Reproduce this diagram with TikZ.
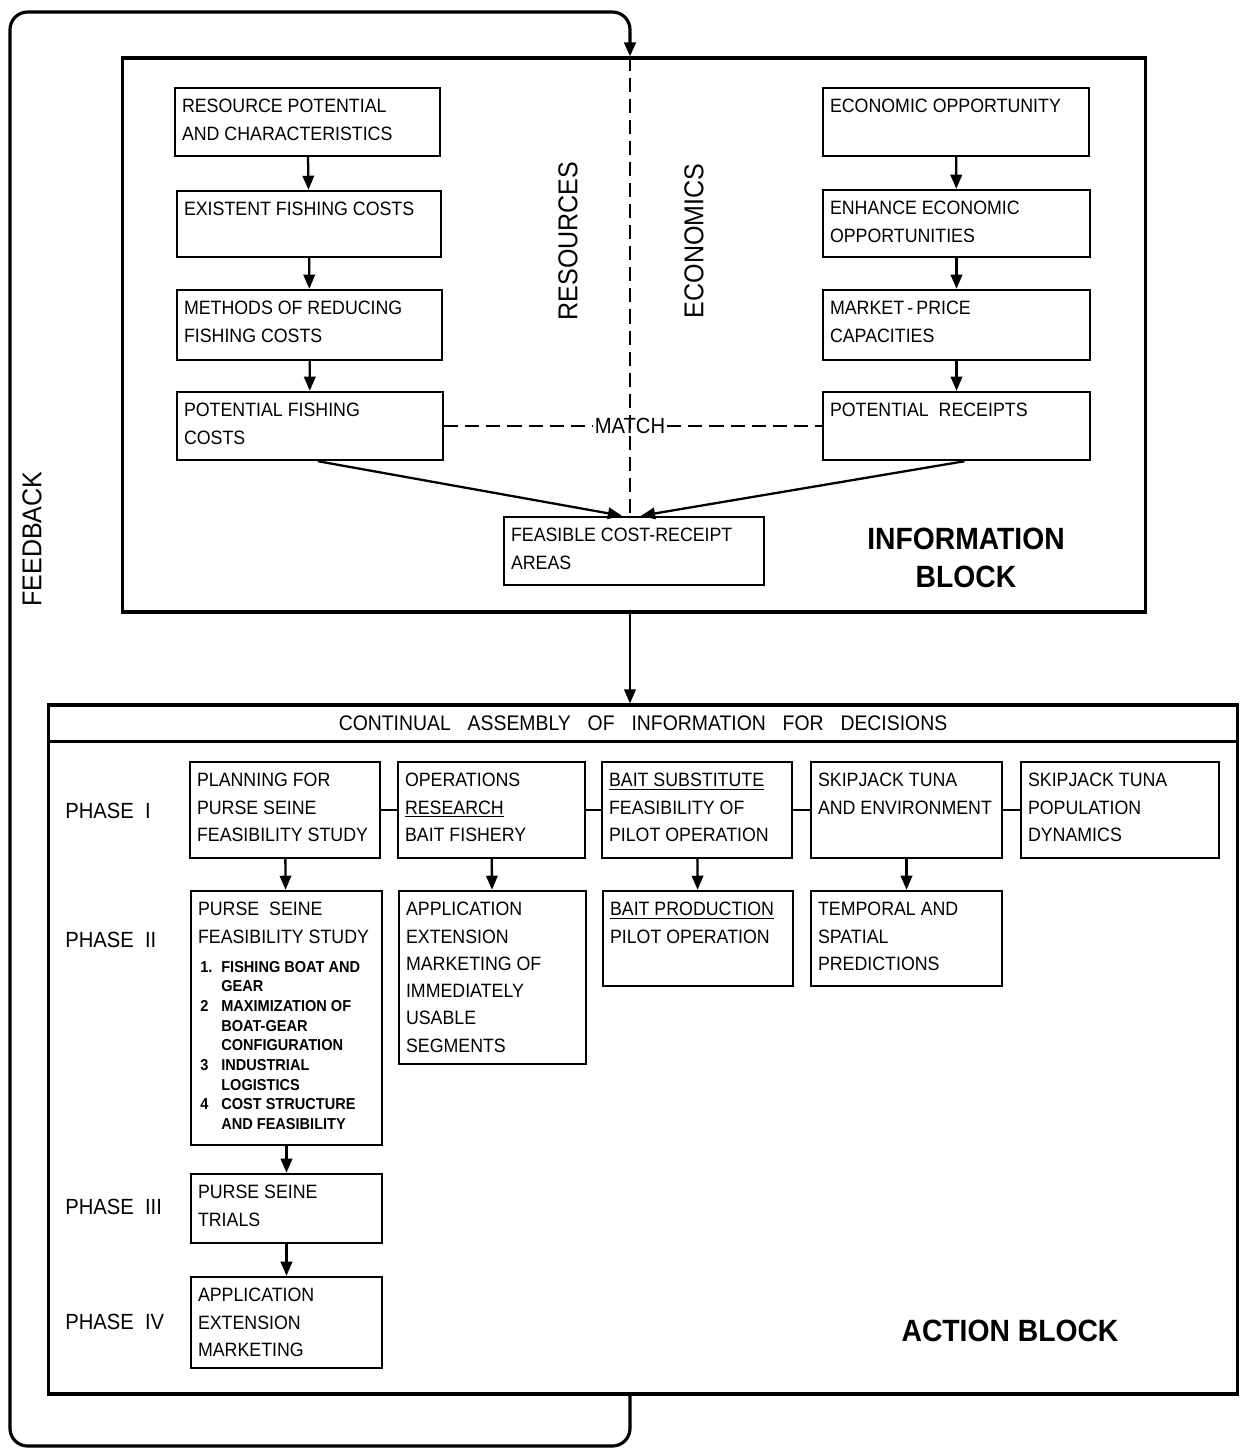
\documentclass[tikz,border=0pt]{standalone}
\usepackage{fontspec}
\setmainfont{Liberation Sans}[FakeStretch=0.92]
\usetikzlibrary{arrows.meta,positioning,calc}
\tikzset{%
  box/.style={rectangle,draw,line width=1.4pt,inner sep=0pt},
  block/.style={rectangle,draw,line width=1.8pt,inner sep=0pt},
  boxtext/.style={anchor=north west,align=left,inner xsep=4.5pt,inner ysep=7pt,
    font=\fontsize{11}{15.5}\selectfont},
  flow/.style={line width=1.3pt,-{Triangle[length=8pt,width=6.5pt]}},
  link/.style={line width=1.3pt},
  matchline/.style={line width=1.3pt,dash pattern=on 8pt off 4pt},
  phase/.style={anchor=west,inner sep=0pt,font=\fontsize{12.5}{14}\selectfont},
  bigtext/.style={align=center,font=\fontsize{17.5}{22}\selectfont\bfseries},
  sidetext/.style={rotate=90,font=\fontsize{15.5}{18}\selectfont}
}

\begin{document}
\begin{tikzpicture}[x=0.02cm,y=-0.02cm]
\useasboundingbox (0,0) rectangle (1244,1454);

% ---- box macro: #1 name, #2 x1, #3 y1, #4 x2, #5 y2, #6 text ----
\newcommand{\pbox}[6]{
  \node[box,minimum width={(#4-#2)*0.02cm},minimum height={(#5-#3)*0.02cm}]
    (#1) at ({(#2+#4)/2},{(#3+#5)/2}) {};
  \node[boxtext] at (#1.north west) {#6};
}

% ===================== outer blocks =====================
\node[block,minimum width=20.48cm,minimum height=11.08cm] (info) at (634,335) {};
\node[block,minimum width=23.80cm,minimum height=13.78cm] (act) at (643,1049.5) {};
\node[box,anchor=north,minimum width=23.80cm,minimum height=0.74cm,
  font=\fontsize{12}{14}\selectfont] (hdr) at (act.north)
  {CONTINUAL\hspace{0.8em}ASSEMBLY\hspace{0.8em}OF\hspace{0.8em}INFORMATION\hspace{0.8em}FOR\hspace{0.8em}DECISIONS};

\coordinate (fbx) at (630,12);     % feedback top turn
\coordinate (fbcorner) at (10,1446); % feedback bottom-left turn

% ===================== information block =====================
\pbox{res}{175}{88}{440}{156}{RESOURCE POTENTIAL\\AND CHARACTERISTICS}
\pbox{exist}{177}{191}{441}{257}{EXISTENT FISHING COSTS}
\pbox{meth}{177}{290}{442}{360}{METHODS OF REDUCING\\FISHING COSTS}
\pbox{pfc}{177}{392}{443}{460}{POTENTIAL FISHING\\COSTS}

\pbox{eco}{823}{88}{1089}{156}{ECONOMIC OPPORTUNITY}
\pbox{enh}{823}{190}{1090}{257}{ENHANCE ECONOMIC\\OPPORTUNITIES}
\pbox{mkt}{823}{290}{1090}{360}{MARKET\,-\,PRICE\\CAPACITIES}
\pbox{prec}{823}{392}{1090}{460}{POTENTIAL\ \ RECEIPTS}

\pbox{feas}{504}{517}{764}{585}{FEASIBLE COST-RECEIPT\\AREAS}

\node[sidetext] (resl) at (568,241) {RESOURCES};
\node[sidetext] (ecol) at (694,241) {ECONOMICS};
\node[bigtext] (infol) at (966,558) {INFORMATION\\BLOCK};
\node[font=\fontsize{12.5}{14}\selectfont,inner sep=1pt] (matchl) at (630,426) {MATCH};

\draw[flow] (res) -- (exist);
\draw[flow] (exist) -- (meth);
\draw[flow] (meth) -- (pfc);
\draw[flow] (eco) -- (enh);
\draw[flow] (enh) -- (mkt);
\draw[flow] (mkt) -- (prec);

\draw[matchline] (info.north -| fbx) -- (feas.north -| fbx);
\draw[matchline] (pfc.east) -- (matchl.west);
\draw[matchline] (matchl.east) -- (prec.west);
\draw[flow] ([xshift=0.16cm]pfc.south) -- ([xshift=-0.24cm]feas.north);
\draw[flow] ([xshift=0.16cm]prec.south) -- ([xshift=0.14cm]feas.north);

\draw[flow] (info.south -| fbx) -- (act.north -| fbx);

% ===================== action block =====================
% phase I
\pbox{plan}{190}{762}{380}{858}{PLANNING FOR\\PURSE SEINE\\FEASIBILITY STUDY}
\pbox{oper}{398}{762}{585}{858}{OPERATIONS\\\underline{RESEARCH}\\BAIT FISHERY}
\pbox{bsub}{602}{762}{792}{858}{\underline{BAIT SUBSTITUTE}\\FEASIBILITY OF\\PILOT OPERATION}
\pbox{skenv}{811}{762}{1002}{858}{SKIPJACK TUNA\\AND ENVIRONMENT}
\pbox{skpop}{1021}{762}{1219}{858}{SKIPJACK TUNA\\POPULATION\\DYNAMICS}

% phase II
\pbox{ps}{191}{891}{382}{1145}{PURSE\ \ SEINE\\FEASIBILITY STUDY}
\node[anchor=north west,inner sep=0pt,font=\fontsize{9}{11.2}\selectfont\bfseries]
  (pslist) at (200,958) {%
  \begin{tabular}{@{}p{0.42cm}@{}l@{}}
    1. & FISHING BOAT AND\\
       & GEAR\\
    2  & MAXIMIZATION OF\\
       & BOAT-GEAR\\
       & CONFIGURATION\\
    3  & INDUSTRIAL\\
       & LOGISTICS\\
    4  & COST STRUCTURE\\
       & AND FEASIBILITY
  \end{tabular}};
\pbox{appl}{399}{891}{586}{1064}{APPLICATION\\EXTENSION\\MARKETING OF\\IMMEDIATELY\\USABLE\\SEGMENTS}
\pbox{bprod}{603}{891}{793}{986}{\underline{BAIT PRODUCTION}\\PILOT OPERATION}
\pbox{temp}{811}{891}{1002}{986}{TEMPORAL AND\\SPATIAL\\PREDICTIONS}

% phase III, IV
\pbox{trial}{191}{1174}{382}{1243}{PURSE SEINE\\TRIALS}
\pbox{apx}{191}{1277}{382}{1368}{APPLICATION\\EXTENSION\\MARKETING}

\node[phase] (ph1) at (65,811) {PHASE\ \ I};
\node[phase] (ph2) at (65,940) {PHASE\ \ II};
\node[phase] (ph3) at (65,1207) {PHASE\ \ III};
\node[phase] (ph4) at (65,1322) {PHASE\ \ IV};
\node[bigtext] (actl) at (1010,1331) {ACTION BLOCK};

\draw[link] (plan) -- (oper);
\draw[link] (oper) -- (bsub);
\draw[link] (bsub) -- (skenv);
\draw[link] (skenv) -- (skpop);

\draw[flow] (plan) -- (ps);
\draw[flow] (oper) -- (appl);
\draw[flow] (bsub) -- (bprod);
\draw[flow] (skenv) -- (temp);
\draw[flow] (ps) -- (trial);
\draw[flow] (trial) -- (apx);

% ===================== feedback loop =====================
\draw[line width=1.8pt,rounded corners=10pt,-{Triangle[length=8pt,width=6.5pt]}]
  (act.south -| fbx) |- (fbcorner) |- (fbx) -- (info.north -| fbx);
\node[sidetext] (fbl) at (32,539) {FEEDBACK};

\end{tikzpicture}
\end{document}
